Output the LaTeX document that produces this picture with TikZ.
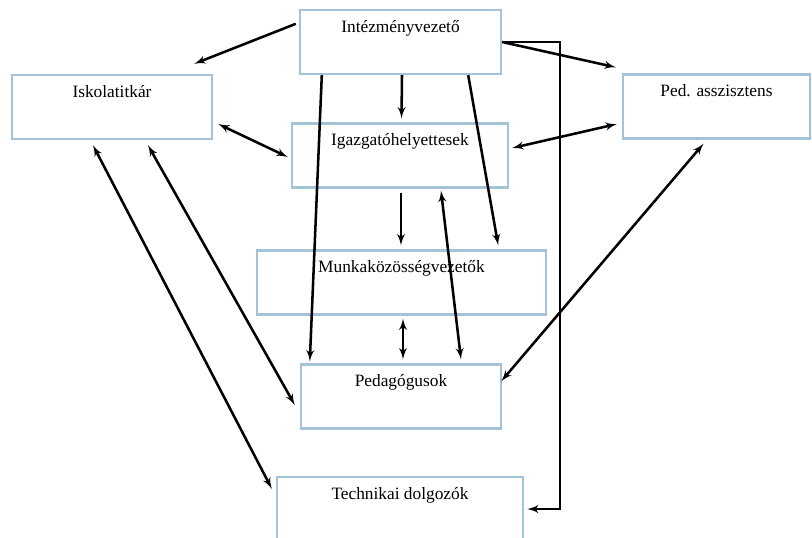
\documentclass[tikz,border=0pt]{standalone}
\usepackage{fontspec}
\setmainfont{Liberation Serif}
\usetikzlibrary{arrows,calc}
\definecolor{boxblue}{RGB}{165,195,215}
\tikzstyle{box} = [rectangle, draw=boxblue, line width=1.8pt, inner xsep=0pt, inner ysep=0pt,
    text height=16.5pt, text depth=31.5pt, font=\fontsize{13}{15}\selectfont]
\tikzstyle{line} = [draw, line width=1.9pt, -latex']
\tikzstyle{both} = [draw, line width=1.9pt, latex'-latex']
\begin{document}
\begin{tikzpicture}[x=0.75pt, y=-0.75pt]
		\useasboundingbox (0,0) rectangle (812,537);
		\node [box, minimum width=150.75pt] (vezeto) at (400.5,42) {Intézményvezető};
		\node [box, minimum width=150pt] (titkar) at (112,107) {Iskolatitkár};
		\node [box, minimum width=140.25pt] (asszisztens) at (716.5,106.5) {Ped. asszisztens};
		\node [box, minimum width=162pt] (helyettes) at (400,155.5) {Igazgatóhelyettesek};
		\node [box, minimum width=216.75pt] (munkakozosseg) at (401.5,282.5) {Munkaközösségvezetők};
		\node [box, minimum width=150pt] (pedagogus) at (401,396.5) {Pedagógusok};
		\node [box, minimum width=184.5pt] (technikai) at (400,509) {Technikai dolgozók};
		
		\path [line] ($(vezeto.north west)+(-3,15)$) -- ($(titkar.north east)+(-19,-10)$);
		\path [line] (vezeto.east) -- ($(asszisztens.north west)+(-6,-6)$);
		\path [line] (vezeto.east) -- ++(58,0) |- ($(technikai.east)+(3,0)$);
		\path [line] ($(vezeto.south west)+(23,0)$) -- ($(pedagogus.north west)+(10,-2)$);
		\path [line] ($(vezeto.south)+(1.5,0)$) -- ($(helyettes.north)+(1.5,-4)$);
		\path [line] ($(vezeto.south east)+(-34,0)$) -- ($(munkakozosseg.north east)+(-49,-4)$);
		\path [line] ($(helyettes.south)+(1,4)$) -- ($(munkakozosseg.north)+(-0.5,-4)$);
		\path [both] ($(titkar.east)+(5,17)$) -- ($(helyettes.west)+(-3,1.5)$);
		\path [both] ($(asszisztens.west)+(-5,17.5)$) -- ($(helyettes.east)+(3,-7.5)$);
		\path [both] ($(helyettes.south)+(41,2)$) -- ($(pedagogus.north)+(60,-4)$);
		\path [both] ($(munkakozosseg.south)+(1.5,3)$) -- ($(pedagogus.north)+(2,-4)$);
		\path [both] ($(asszisztens.south)+(-13,4)$) -- ($(pedagogus.north east)+(-1,18)$);
		\path [both] ($(titkar.south)+(36,5)$) -- ($(pedagogus.west)+(-5,8.5)$);
		\path [both] ($(titkar.south)+(-19,5)$) -- ($(technikai.north west)+(-4,13)$);
	\end{tikzpicture}
\end{document}
